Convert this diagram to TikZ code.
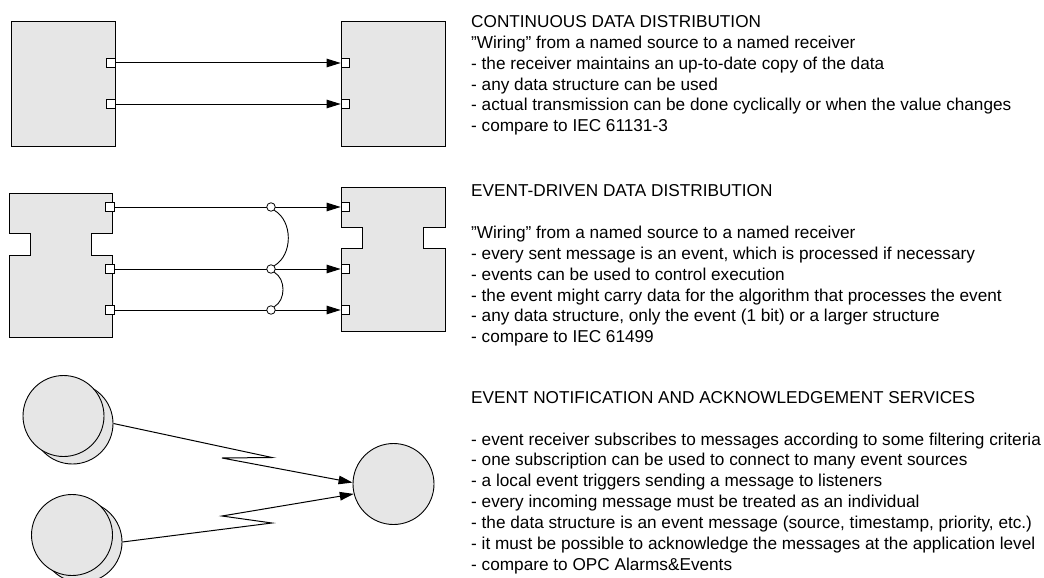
\documentclass[tikz,border=0pt]{standalone}
\usepackage{fontspec}
\setmainfont{Liberation Sans}
\usetikzlibrary{arrows.meta}
\definecolor{boxgray}{HTML}{E6E6E6}
\tikzset{
  blk/.style={draw=black, fill=boxgray, line width=1pt, minimum width=104pt,
              minimum height=124pt, inner sep=0pt},
  shell/.style={draw=black, fill=boxgray, line width=1pt},
  port/.style={draw=black, fill=white, line width=0.8pt, minimum size=8.5pt, inner sep=0pt},
  wire/.style={line width=1pt, -{Triangle[length=14pt,width=8.5pt]}},
  link/.style={line width=0.9pt},
  junc/.style={circle, draw=black, fill=white, minimum size=8.5pt, inner sep=0pt, line width=0.8pt},
  ball/.style={circle, draw=black, fill=boxgray, minimum size=81pt, inner sep=0pt, line width=0.9pt},
  txt/.style={anchor=base west, inner sep=0pt, font=\fontsize{17.2}{20.9}\selectfont}
}
\begin{document}
\begin{tikzpicture}[x=1pt, y=-1pt]
\useasboundingbox (0,0) rectangle (1044,578);

% ---------- continuous data distribution ----------
\node[blk] (srcA) at (63,84) {};
\node[blk] (dstA) at (393,84) {};
\node[port] (sa1) at (110.7,63) {};
\node[port] (sa2) at (110.7,104) {};
\node[port] (da1) at (345.3,63) {};
\node[port] (da2) at (345.3,104) {};
\draw[wire] (sa1.east) -- (da1.west);
\draw[wire] (sa2.east) -- (da2.west);

% ---------- event-driven data distribution ----------
\draw[shell] (9,193) -- (112,193) -- (112,233) -- (91,233) -- (91,255) -- (112,255)
  -- (112,337) -- (9,337) -- (9,255) -- (30,255) -- (30,233) -- (9,233) -- cycle;
\draw[shell] (341,187) -- (445,187) -- (445,227) -- (423,227) -- (423,248) -- (445,248)
  -- (445,331) -- (341,331) -- (341,248) -- (362,248) -- (362,227) -- (341,227) -- cycle;
\node[port] (sb1) at (110,207) {};
\node[port] (sb2) at (110,269) {};
\node[port] (sb3) at (110,310) {};
\node[port] (db1) at (345.3,207) {};
\node[port] (db2) at (345.3,269) {};
\node[port] (db3) at (345.3,310) {};
\draw[wire] (sb1.east) -- (db1.west);
\draw[wire] (sb2.east) -- (db2.west);
\draw[wire] (sb3.east) -- (db3.west);
\node[junc] (j1) at (271,207) {};
\node[junc] (j2) at (271,269) {};
\node[junc] (j3) at (271,310) {};
\draw[link] (j1.-45) to[out=-30, in=30] (j2.45);
\draw[link] (j2.-45) to[out=-30, in=30] (j3.45);

% ---------- event notification ----------
\node[ball] (bt) at (72.5,423.5) {};
\node[ball] (ft) at (63.5,416) {};
\node[ball] (bb) at (81.5,542) {};
\node[ball] (fb) at (72,535) {};
\node[ball] (rc) at (393.5,484) {};
\coordinate (z1a) at (272,457.5);
\coordinate (z1b) at (222,458);
\coordinate (z2a) at (272,523);
\coordinate (z2b) at (222,516);
\draw[wire] (bt.east) -- (z1a) -- (z1b) -- (rc.178);
\draw[wire] (bb.east) -- (z2a) -- (z2b) -- (rc.194);

% ---------- descriptions ----------
\foreach \t [count=\i from 0] in {
  CONTINUOUS DATA DISTRIBUTION,
  ”Wiring” from a named source to a named receiver,
  - the receiver maintains an up-to-date copy of the data,
  - any data structure can be used,
  - actual transmission can be done cyclically or when the value changes,
  - compare to IEC 61131-3}
  \node[txt] (ta\i) at (471,{27.3+20.9*\i}) {\t};

\node[txt] (tbh) at (471,196) {EVENT-DRIVEN DATA DISTRIBUTION};
\foreach \t [count=\i from 0] in {
  ”Wiring” from a named source to a named receiver,
  {- every sent message is an event, which is processed if necessary},
  - events can be used to control execution,
  - the event might carry data for the algorithm that processes the event,
  {- any data structure, only the event (1 bit) or a larger structure},
  - compare to IEC 61499}
  \node[txt] (tb\i) at (471,{238.3+20.9*\i}) {\t};

\node[txt] (tch) at (471,403.3) {EVENT NOTIFICATION AND ACKNOWLEDGEMENT SERVICES};
\foreach \t [count=\i from 0] in {
  - event receiver subscribes to messages according to some filtering criteria,
  - one subscription can be used to connect to many event sources,
  - a local event triggers sending a message to listeners,
  - every incoming message must be treated as an individual,
  {- the data structure is an event message (source, timestamp, priority, etc.)},
  - it must be possible to acknowledge the messages at the application level,
  - compare to OPC Alarms\&Events}
  \node[txt] (tc\i) at (471,{445+20.9*\i}) {\t};
\end{tikzpicture}
\end{document}
